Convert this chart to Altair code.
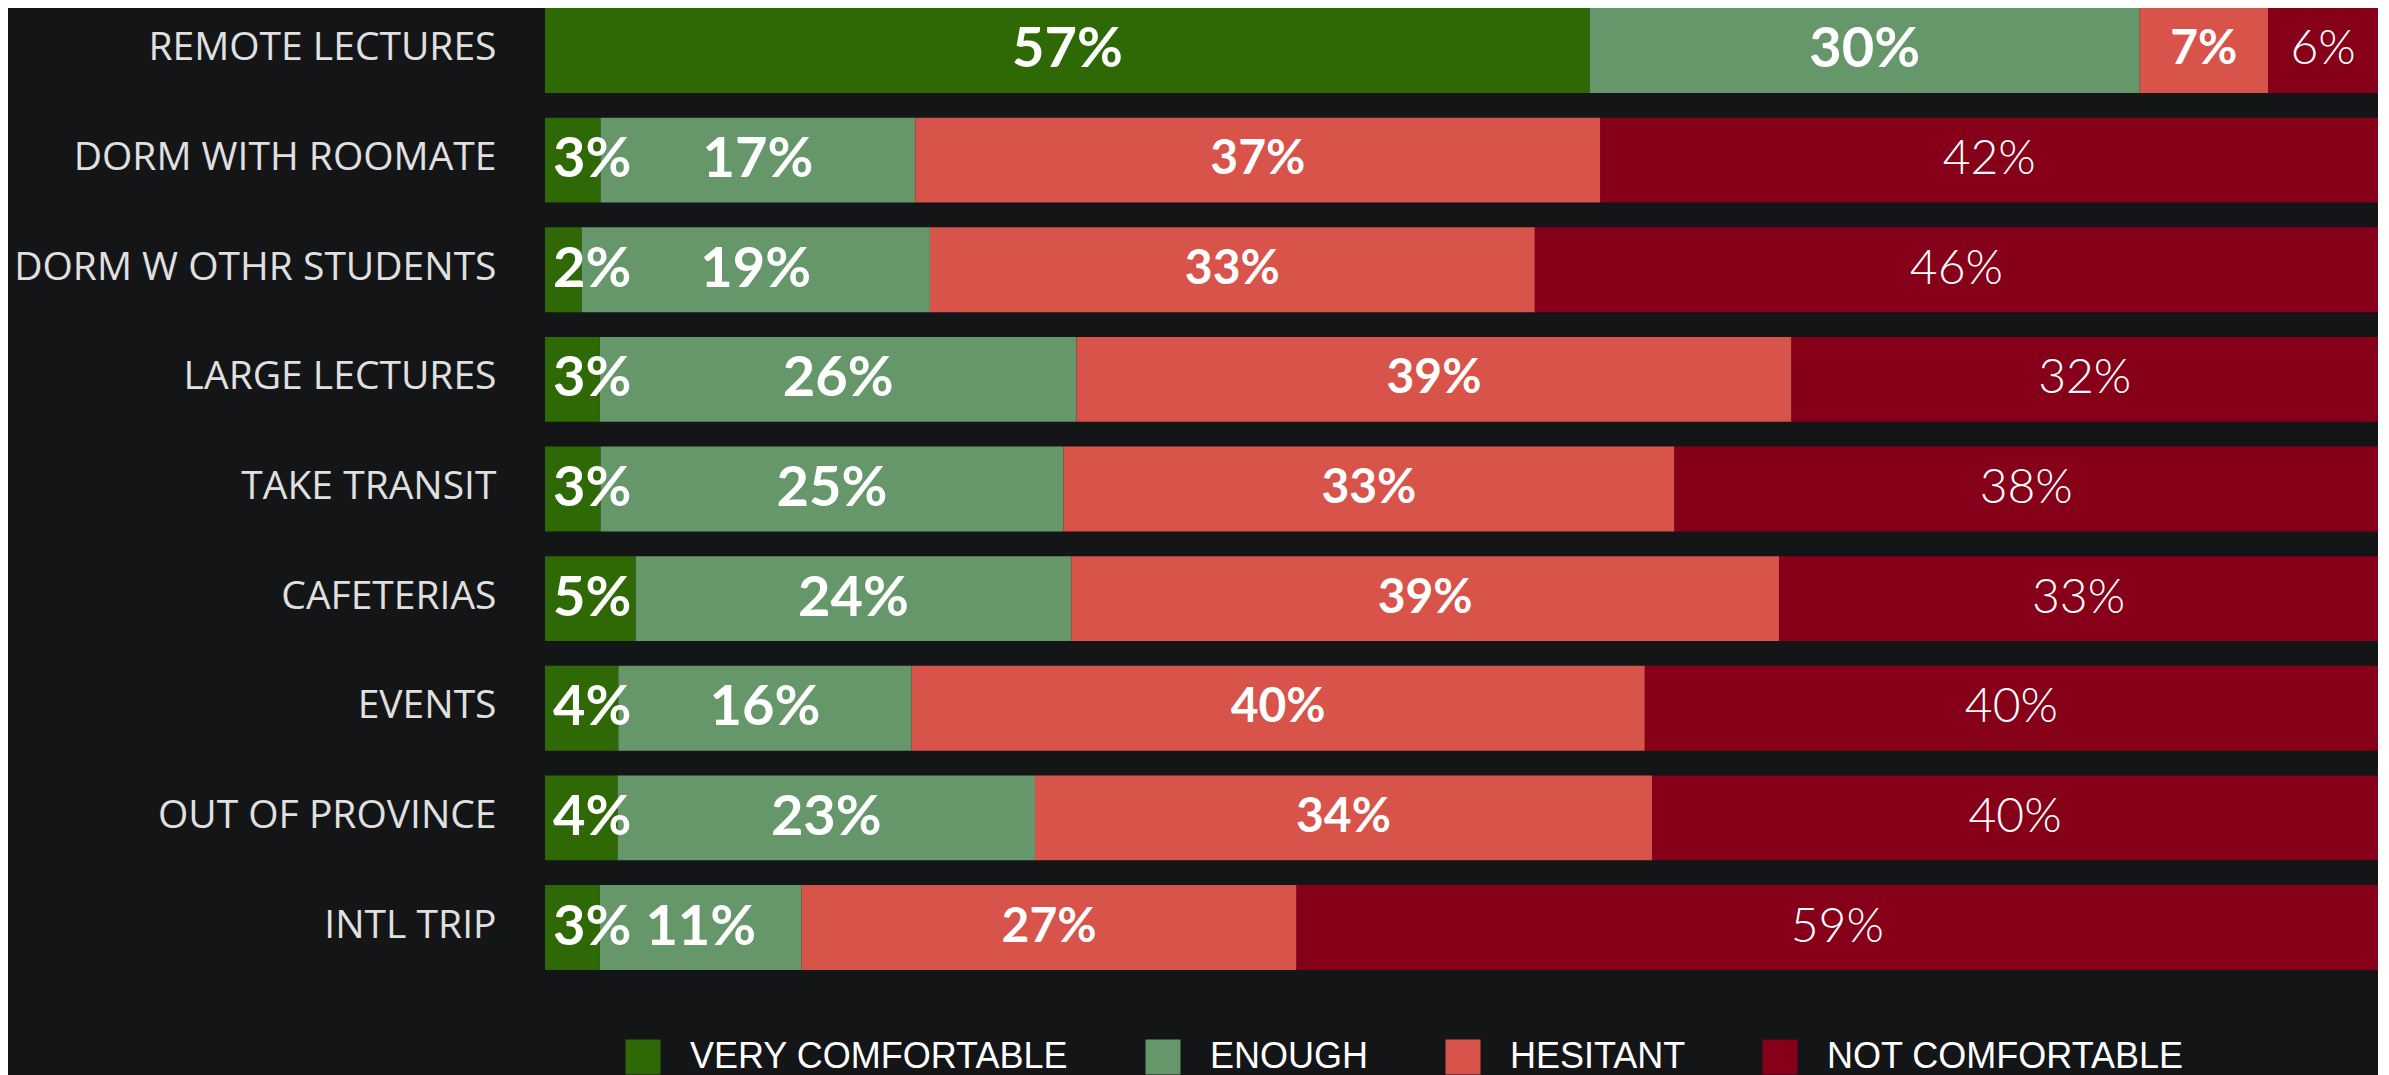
import altair as alt
import pandas as pd

categories = ["REMOTE LECTURES", "DORM WITH ROOMATE", "DORM W OTHR STUDENTS",
              "LARGE LECTURES", "TAKE TRANSIT", "CAFETERIAS", "EVENTS",
              "OUT OF PROVINCE", "INTL TRIP"]
levels = ["VERY COMFORTABLE", "ENOUGH", "HESITANT", "NOT COMFORTABLE"]
colors = ["#2e6905", "#66976b", "#d8534a", "#870019"]

very_comfortable = [57, 3, 2, 3, 3, 5, 4, 4, 3]
enough = [30, 17, 19, 26, 25, 24, 16, 23, 11]
hesitant = [7, 37, 33, 39, 33, 39, 40, 34, 27]
not_comfortable = [6, 42, 46, 32, 38, 33, 40, 40, 59]

series = [very_comfortable, enough, hesitant, not_comfortable]
rows = []
for li, (lvl, vals) in enumerate(zip(levels, series)):
    for cat, v in zip(categories, vals):
        rows.append({"cat": cat, "level": lvl, "ord": li, "value": v, "label": f"{v}%"})
df = pd.DataFrame(rows)

base = (
    alt.Chart(df)
    .transform_joinaggregate(total="sum(value)", groupby=["cat"])
    .transform_window(cum="sum(value)", sort=[{"field": "ord"}], groupby=["cat"], frame=[None, 0])
    .transform_calculate(
        x0="(datum.cum - datum.value) / datum.total",
        x1="datum.cum / datum.total",
        xm="(datum.cum - datum.value / 2) / datum.total",
    )
)

y_enc = alt.Y(
    "cat:N", sort=categories,
    scale=alt.Scale(paddingInner=0.225, paddingOuter=0),
    axis=alt.Axis(title=None, domain=False, ticks=False, grid=False,
                  labelFont="Open Sans", labelFontSize=39, labelFontWeight=500,
                  labelColor="#e0e0e0", labelPadding=49, labelLimit=600,
                  labelOffset=-2),
)
xscale = alt.Scale(domain=[0, 1], nice=False, zero=True)

bars = base.mark_bar().encode(
    x=alt.X("x0:Q", scale=xscale, axis=None),
    x2="x1:Q",
    y=y_enc,
    color=alt.Color(
        "level:N", sort=levels,
        scale=alt.Scale(domain=levels, range=colors),
        legend=alt.Legend(
            orient="none", legendX=80, legendY=1031, direction="horizontal",
            title=None, symbolType="square", symbolSize=1225, symbolStrokeWidth=0,
            symbolOpacity=1, labelFont="Liberation Sans", labelFontSize=36,
            labelColor="#ffffff", labelOffset=29, columnPadding=76,
            labelLimit=800, padding=0,
        ),
    ),
)

green_small = base.transform_filter("datum.ord == 0 && datum.value < 10").mark_text(
    align="left", dx=8, baseline="middle", font="Lato", fontWeight="bold",
    fontSize=56, color="#ffffff",
).encode(x=alt.X("x0:Q", scale=xscale), y=y_enc, text="label:N")

green = base.transform_filter("datum.ord <= 1 && !(datum.ord == 0 && datum.value < 10)").mark_text(
    align="center", baseline="middle", font="Lato", fontWeight="bold",
    fontSize=56, color="#ffffff",
).encode(x=alt.X("xm:Q", scale=xscale), y=y_enc, text="label:N")

hes = base.transform_filter("datum.ord == 2").mark_text(
    align="center", baseline="middle", font="Lato", fontWeight="bold",
    fontSize=48, color="#ffffff",
).encode(x=alt.X("xm:Q", scale=xscale), y=y_enc, text="label:N")

notc = base.transform_filter("datum.ord == 3").mark_text(
    align="center", baseline="middle", font="Lato", fontWeight=300,
    fontSize=48, color="#ffffff",
).encode(x=alt.X("xm:Q", scale=xscale), y=y_enc, text="label:N")

chart = (
    alt.layer(bars, green_small, green, hes, notc)
    .properties(
        width=1833, height=962,
        autosize=alt.AutoSizeParams(type="none"),
        padding={"left": 537, "top": 0, "right": 0, "bottom": 110},
        background="#141517",
    )
    .configure_view(stroke=None)
)

chart.save("out.html", embed_options={"renderer": "svg", "actions": False})
